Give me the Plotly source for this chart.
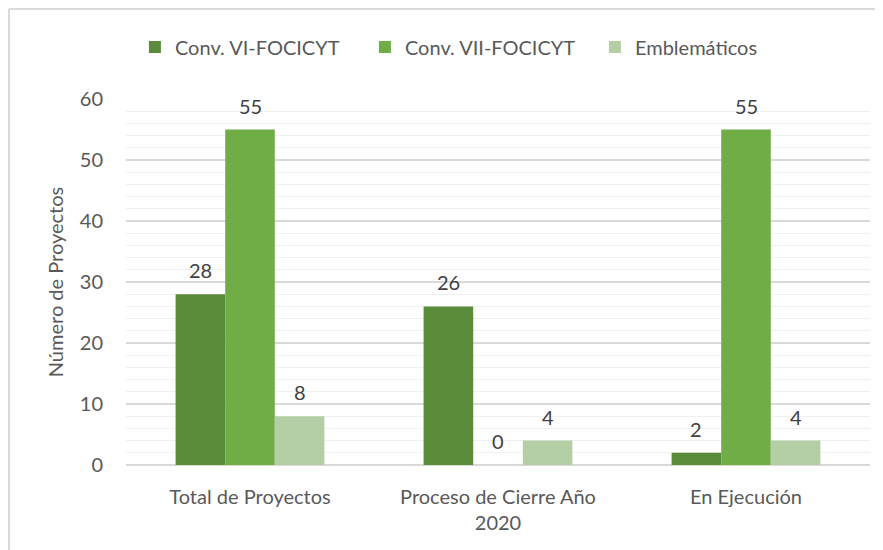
import plotly.graph_objects as go

categories = ["Total de Proyectos", "Proceso de Cierre Año<br>2020", "En Ejecución"]
series_names = ["Conv. VI-FOCICYT", "Conv. VII-FOCICYT", "Emblemáticos"]
conv_vi = [28, 26, 2]
conv_vii = [55, 0, 55]
emblematicos = [8, 4, 4]
colors = ["#5B8C3A", "#70AD47", "#B4CFA6"]

FONT = "Lato"
FS = 20
TXT = "#595959"

# figure is placed at an 8px page offset by the html body margin
W, H = 875, 542
ML, MR, MT, MB = 118, 13, 91, 85
PW, PH = W - ML - MR, H - MT - MB

fig = go.Figure()
all_series = [conv_vi, conv_vii, emblematicos]
for name, vals, col in zip(series_names, all_series, colors):
    fig.add_trace(go.Bar(
        x=categories, y=vals, name=name, marker=dict(color=col, line=dict(width=0)),
    ))

# data labels above bars (offset within the group by one bar width)
bar_w = PW / len(categories) * 0.6 / len(all_series)
for si, vals in enumerate(all_series):
    for cat, v in zip(categories, vals):
        fig.add_annotation(
            x=cat, y=v, text=str(v), showarrow=False, yanchor="bottom",
            xshift=(si - 1) * bar_w, yshift=10,
            font=dict(family=FONT, size=FS, color="#404040"),
        )

fig.update_layout(
    width=W, height=H,
    margin=dict(l=ML, r=MR, t=MT, b=MB),
    paper_bgcolor="white", plot_bgcolor="white",
    barmode="group", bargap=0.4, bargroupgap=0,
    font=dict(family=FONT, color=TXT, size=FS),
    showlegend=True,
    legend=dict(orientation="h", x=0.012, xanchor="left", y=1.142, yanchor="middle",
                font=dict(family=FONT, size=FS, color=TXT),
                itemwidth=30, traceorder="normal",
                entrywidthmode="pixels", entrywidth=185),
)
fig.update_yaxes(
    range=[0, 60], dtick=10, showgrid=True, gridcolor="#D9D9D9", gridwidth=1.5,
    minor=dict(dtick=2, showgrid=True, gridcolor="#F0F0F0", gridwidth=1),
    zeroline=True, zerolinecolor="#D9D9D9", zerolinewidth=2,
    showline=False, ticks="", ticklabelstandoff=22,
    tickfont=dict(family=FONT, size=FS, color=TXT),
    title=dict(text="Número de Proyectos", font=dict(family=FONT, size=FS, color=TXT), standoff=10),
)
fig.update_xaxes(
    showgrid=False, showline=False, ticks="", ticklabelstandoff=18,
    tickfont=dict(family=FONT, size=FS, color=TXT),
)
# chart-area border (only left and top edges are visible in the crop)
x_left, x_right = (1 - ML) / PW, (W + 10 - ML) / PW
y_top, y_bot = (MT + PH - 1) / PH, (MT + PH - H - 10) / PH
border = dict(color="#D9D9D9", width=2)
fig.add_shape(type="line", xref="paper", yref="paper", x0=x_left, x1=x_right,
              y0=y_top, y1=y_top, line=border, layer="below")
fig.add_shape(type="line", xref="paper", yref="paper", x0=x_left, x1=x_left,
              y0=y_top, y1=y_bot, line=border, layer="below")
fig.write_html("out.html")
